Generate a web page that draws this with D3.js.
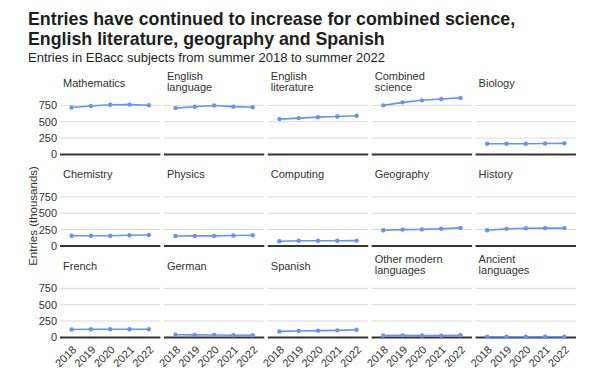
<!DOCTYPE html>
<html>
<head>
<meta charset="utf-8">
<script src="https://cdn.jsdelivr.net/npm/d3@7"></script>
<style>
  body { margin: 0; background: #fff; }
  svg { font-family: "Liberation Sans", Arial, sans-serif; }
  .grid line { stroke: #dadada; stroke-width: 1; }
  .yaxis text, .xaxis text { fill: #333; font-size: 11px; }
  .strip { fill: #333; font-size: 11px; }
</style>
</head>
<body>
<script>
var years = ['2018', '2019', '2020', '2021', '2022'];
var subjects = [
  ['Mathematics'], ['English', 'language'], ['English', 'literature'], ['Combined', 'science'], ['Biology'],
  ['Chemistry'], ['Physics'], ['Computing'], ['Geography'], ['History'],
  ['French'], ['German'], ['Spanish'], ['Other modern', 'languages'], ['Ancient', 'languages']
];
// entries in thousands, one row per subject
var entries = [
  [718, 740, 760, 762, 752],
  [708, 728, 748, 730, 720],
  [540, 555, 570, 580, 590],
  [750, 796, 827, 848, 864],
  [162, 162, 163, 166, 169],
  [155, 156, 156, 163, 167],
  [152, 153, 153, 160, 164],
  [70, 79, 79, 79, 81],
  [240, 249, 252, 262, 275],
  [240, 261, 271, 272, 272],
  [120, 125, 125, 125, 125],
  [40, 38, 36, 34, 32],
  [92, 98, 103, 108, 116],
  [30, 31, 30, 27, 33],
  [9, 9, 9, 9, 9]
];
var yTicks = [0, 250, 500, 750];

var W = 589, H = 388;
var left = 60, right = 576, gap = 3.5, nCol = 5;
var panelW = (right - left - gap * (nCol - 1)) / nCol;
var firstZero = 154.4, rowStep = 91.5, panelH = 59.5;
var blue = '#6792f6';

var svg = d3.select('body').append('svg').attr('width', W).attr('height', H);

svg.append('text').attr('x', 28).attr('y', 25)
  .attr('font-size', '17.8px').attr('font-weight', 'bold').attr('fill', '#1e1e1e')
  .text('Entries have continued to increase for combined science,');
svg.append('text').attr('x', 28).attr('y', 44.5)
  .attr('font-size', '17.8px').attr('font-weight', 'bold').attr('fill', '#1e1e1e')
  .text('English literature, geography and Spanish');
svg.append('text').attr('x', 28).attr('y', 62)
  .attr('font-size', '13px').attr('fill', '#1e1e1e')
  .text('Entries in EBacc subjects from summer 2018 to summer 2022');

svg.append('text')
  .attr('transform', 'translate(37,' + 216 + ') rotate(-90)')
  .attr('text-anchor', 'middle').attr('font-size', '11.5px').attr('fill', '#333')
  .text('Entries (thousands)');

var x = d3.scalePoint().domain(years).range([0, panelW]).padding(0.6);
var y = d3.scaleLinear().domain([0, 910]).range([panelH, 0]);
var line = d3.line().x(function (d, i) { return x(years[i]); }).y(function (d) { return y(d); });

var panels = svg.selectAll('g.panel')
  .data(entries)
  .enter().append('g')
  .attr('class', 'panel')
  .attr('transform', function (d, i) {
    var c = i % nCol, r = Math.floor(i / nCol);
    return 'translate(' + (left + c * (panelW + gap)) + ',' + (firstZero + r * rowStep - panelH) + ')';
  });

panels.append('g').attr('class', 'grid')
  .selectAll('line')
  .data(yTicks.slice(1))
  .enter().append('line')
  .attr('x1', 0).attr('x2', panelW)
  .attr('y1', function (d) { return y(d); }).attr('y2', function (d) { return y(d); });

panels.append('line')
  .attr('x1', 0).attr('x2', panelW)
  .attr('y1', y(0)).attr('y2', y(0))
  .attr('stroke', '#333').attr('stroke-width', 2);

panels.append('path')
  .attr('d', function (d) { return line(d); })
  .attr('fill', 'none').attr('stroke', blue).attr('stroke-width', 1.6);

panels.selectAll('circle')
  .data(function (d) { return d; })
  .enter().append('circle')
  .attr('cx', function (d, i) { return x(years[i]); })
  .attr('cy', function (d) { return y(d); })
  .attr('r', 2.2).attr('fill', blue);

// strip labels
panels.append('text').attr('class', 'strip')
  .each(function (d, i) {
    var lab = subjects[i];
    var t = d3.select(this);
    var base = lab.length === 1 ? panelH - 67.6 : panelH - 74.5;
    lab.forEach(function (s, k) {
      t.append('tspan').attr('x', 3).attr('y', base + k * 11.5).text(s);
    });
  });

// y axis on first column
panels.filter(function (d, i) { return i % nCol === 0; })
  .append('g').attr('class', 'yaxis')
  .call(d3.axisLeft(y).tickValues(yTicks).tickSize(0).tickPadding(3))
  .call(function (g) { g.select('.domain').remove(); });

// x axis on bottom row
panels.filter(function (d, i) { return i >= 10; })
  .append('g').attr('class', 'xaxis')
  .attr('transform', 'translate(0,' + panelH + ')')
  .call(d3.axisBottom(x).tickSize(0).tickPadding(0))
  .call(function (g) {
    g.select('.domain').remove();
    g.selectAll('text')
      .attr('text-anchor', 'end')
      .attr('dy', null).attr('y', 0)
      .attr('transform', 'translate(5,13) rotate(-45)');
  });
</script>
</body>
</html>
